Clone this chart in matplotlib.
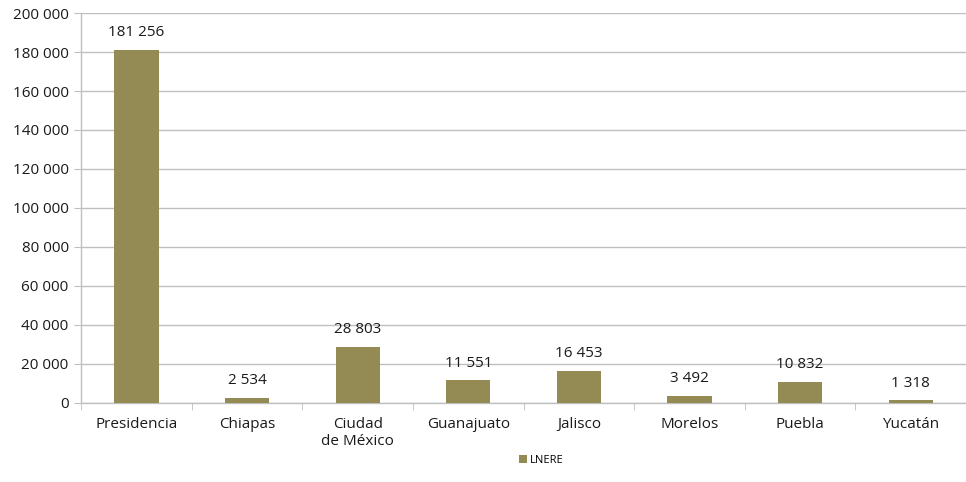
import numpy as np
import matplotlib.pyplot as plt
from matplotlib.ticker import FuncFormatter, MultipleLocator, FixedLocator

categorias = ['Presidencia', 'Chiapas', 'Ciudad\nde México', 'Guanajuato', 'Jalisco', 'Morelos', 'Puebla', 'Yucatán']
lnere = [181256, 2534, 28803, 11551, 16453, 3492, 10832, 1318]

plt.rcParams['font.family'] = ['Open Sans', 'DejaVu Sans']

def miles(v, pos=None):
	return '{:,}'.format(int(v)).replace(',', ' ')

fig = plt.figure(figsize=(9.66, 4.82), dpi=100)
ax = fig.add_axes([0.084, 0.164, 0.916, 0.809])

x = np.arange(len(categorias))
color = '#948A54'
bars = ax.bar(x, lnere, width=0.4, color=color, label='LNERE', zorder=3)
for xi, v in zip(x, lnere):
	ax.annotate(miles(v), (xi, v), xytext=(0, 7), textcoords='offset points',
		ha='center', va='bottom', fontsize=11, color='#1a1a1a', zorder=4)

ax.set_xlim(-0.5, len(categorias) - 0.5)
ax.set_ylim(0, 200000)
ax.yaxis.set_major_locator(MultipleLocator(20000))
ax.yaxis.set_major_formatter(FuncFormatter(miles))
ax.set_xticks(x)
ax.set_xticklabels(categorias, fontsize=11, color='#1a1a1a')
ax.xaxis.set_minor_locator(FixedLocator(np.arange(-0.5, len(categorias), 1)))
ax.tick_params(axis='x', which='major', length=0, pad=10)
ax.tick_params(axis='x', which='minor', length=5, color='#BFBFBF')
ax.tick_params(axis='y', length=5, color='#BFBFBF', labelsize=11, labelcolor='#1a1a1a', pad=4)
ax.grid(axis='y', color='#BFBFBF', linewidth=1, zorder=0)
for s in ['top', 'right']:
	ax.spines[s].set_visible(False)
for s in ['left', 'bottom']:
	ax.spines[s].set_color('#BFBFBF')
	ax.spines[s].set_linewidth(1)

fig.legend(handles=[bars], labels=['LNERE'], loc='center', bbox_to_anchor=(0.56, 0.045),
	frameon=False, fontsize=8, handlelength=0.8, handleheight=0.8, handletextpad=0.2)

fig.savefig('out.png', dpi=100)
